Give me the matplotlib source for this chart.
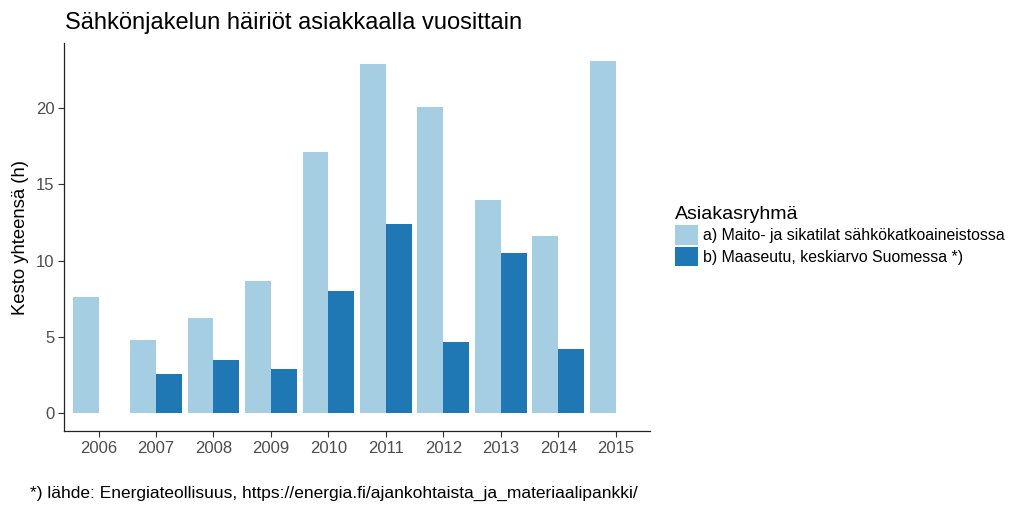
import matplotlib
matplotlib.use("Agg")
import matplotlib.pyplot as plt
import numpy as np

years = ["2006", "2007", "2008", "2009", "2010", "2011", "2012", "2013", "2014", "2015"]
maito_sika = [7.6, 4.8, 6.25, 8.65, 17.1, 22.9, 20.05, 13.95, 11.6, 23.1]
maaseutu = [np.nan, 2.6, 3.5, 2.9, 8.0, 12.4, 4.65, 10.5, 4.25, np.nan]
labels = ["a) Maito- ja sikatilat sähkökatkoaineistossa",
          "b) Maaseutu, keskiarvo Suomessa *)"]
colors = ["#a6cee3", "#1f78b4"]

plt.rcParams["font.family"] = ["Liberation Sans", "DejaVu Sans"]

fig = plt.figure(figsize=(10.23, 5.12), dpi=100)
ax = fig.add_axes([0.0626, 0.158, 0.573, 0.758])

x = np.arange(len(years))
w = 0.45
ax.bar(x - w / 2, maito_sika, width=w, color=colors[0], label=labels[0])
ax.bar(x + w / 2, maaseutu, width=w, color=colors[1], label=labels[1])

ax.set_xlim(-0.6, len(years) - 0.4)
ax.set_ylim(-1.16, 24.26)
ax.set_xticks(x)
ax.set_xticklabels(years)
ax.set_yticks([0, 5, 10, 15, 20])
ax.tick_params(axis="both", direction="out", length=4, width=0.8,
               color="#333333", labelcolor="#4d4d4d", labelsize=12, pad=3)
for side in ["top", "right"]:
    ax.spines[side].set_visible(False)
for side in ["left", "bottom"]:
    ax.spines[side].set_color("#222222")
    ax.spines[side].set_linewidth(0.9)

ax.set_ylabel("Kesto yhteensä (h)", fontsize=13.3, labelpad=5)
fig.text(0.064, 0.955, "Sähkönjakelun häiriöt asiakkaalla vuosittain",
         fontsize=17, va="center", ha="left")
fig.text(0.029, 0.037,
         "*) lähde: Energiateollisuus, https://energia.fi/ajankohtaista_ja_materiaalipankki/",
         fontsize=12.5, va="center", ha="left")

leg = ax.legend(loc="upper left", bbox_to_anchor=(1.043, 0.58), frameon=False,
                title="Asiakasryhmä", title_fontsize=14, fontsize=11.4,
                handlelength=1.4, handleheight=1.55, handletextpad=0.35,
                labelspacing=0.12, borderaxespad=0, borderpad=0)
leg._legend_box.align = "left"

fig.savefig("out.png", dpi=100)
